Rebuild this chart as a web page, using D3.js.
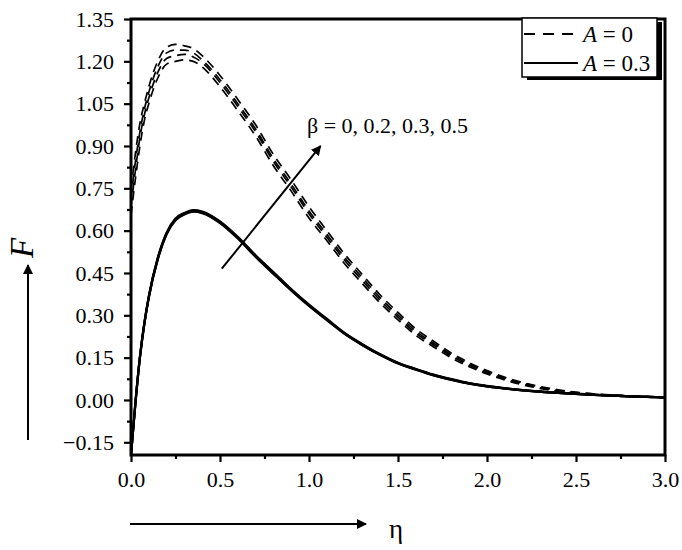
<!DOCTYPE html>
<html>
<head>
<meta charset="utf-8">
<script src="https://cdn.jsdelivr.net/npm/d3@7"></script>
<style>
  body { margin: 0; background: #fff; }
  svg { display: block; }
  svg text { font-family: "Liberation Serif", "Times New Roman", serif; fill: #000; }
</style>
</head>
<body>
<div id="chartBox"></div>
<script>
// eta grid shared by all curves
var eta = [0, 0.025, 0.05, 0.075, 0.1, 0.15, 0.2, 0.25, 0.3, 0.35, 0.4, 0.5, 0.6, 0.7, 0.8, 0.9,
  1.0, 1.1, 1.2, 1.3, 1.4, 1.5, 1.6, 1.7, 1.8, 1.9, 2.0, 2.2, 2.4, 2.6, 2.8, 3.0];

// A = 0, beta = 0, 0.2, 0.3, 0.5 (dashed)
var dashB0 = [0.655, 0.785, 0.90, 0.99, 1.05, 1.14, 1.19, 1.20, 1.205, 1.20, 1.18, 1.11, 1.025, 0.935,
  0.83, 0.74, 0.645, 0.565, 0.483, 0.412, 0.343, 0.284, 0.229, 0.188, 0.149, 0.118, 0.092, 0.054, 0.030, 0.018, 0.012, 0.008];
var dashB2 = [0.685, 0.815, 0.93, 1.01, 1.07, 1.16, 1.21, 1.22, 1.225, 1.215, 1.195, 1.125, 1.04, 0.95,
  0.845, 0.755, 0.66, 0.577, 0.495, 0.423, 0.353, 0.293, 0.237, 0.195, 0.155, 0.123, 0.096, 0.057, 0.032, 0.019, 0.013, 0.009];
var dashB3 = [0.715, 0.845, 0.95, 1.03, 1.09, 1.18, 1.23, 1.24, 1.24, 1.23, 1.205, 1.135, 1.05, 0.96,
  0.855, 0.765, 0.67, 0.587, 0.505, 0.433, 0.362, 0.301, 0.244, 0.201, 0.160, 0.127, 0.100, 0.060, 0.034, 0.021, 0.014, 0.009];
var dashB5 = [0.745, 0.875, 0.98, 1.05, 1.11, 1.20, 1.25, 1.26, 1.255, 1.245, 1.22, 1.15, 1.065, 0.975,
  0.87, 0.78, 0.685, 0.60, 0.517, 0.444, 0.372, 0.31, 0.252, 0.208, 0.166, 0.132, 0.104, 0.062, 0.036, 0.022, 0.015, 0.010];

// A = 0.3, beta = 0, 0.2, 0.3, 0.5 (solid, nearly coincident)
var solidB0 = [-0.195, -0.012, 0.148, 0.268, 0.362, 0.497, 0.587, 0.637, 0.657, 0.667, 0.662, 0.627, 0.572, 0.507,
  0.447, 0.388, 0.333, 0.283, 0.234, 0.194, 0.159, 0.129, 0.107, 0.087, 0.071, 0.058, 0.048, 0.034, 0.025, 0.018, 0.013, 0.009];
var solidB2 = [-0.195, -0.010, 0.150, 0.270, 0.364, 0.499, 0.589, 0.639, 0.659, 0.669, 0.664, 0.629, 0.574, 0.509,
  0.449, 0.389, 0.334, 0.284, 0.235, 0.195, 0.160, 0.130, 0.108, 0.088, 0.072, 0.058, 0.048, 0.034, 0.025, 0.018, 0.013, 0.009];
var solidB3 = [-0.195, -0.008, 0.152, 0.272, 0.366, 0.501, 0.591, 0.641, 0.661, 0.671, 0.666, 0.631, 0.576, 0.511,
  0.451, 0.391, 0.336, 0.286, 0.236, 0.196, 0.161, 0.131, 0.109, 0.089, 0.073, 0.059, 0.049, 0.035, 0.025, 0.018, 0.013, 0.009];
var solidB5 = [-0.195, -0.006, 0.154, 0.274, 0.368, 0.503, 0.593, 0.643, 0.663, 0.673, 0.668, 0.633, 0.578, 0.513,
  0.453, 0.393, 0.338, 0.288, 0.238, 0.198, 0.162, 0.132, 0.110, 0.090, 0.074, 0.060, 0.050, 0.035, 0.026, 0.019, 0.013, 0.009];

var xTicks = [0, 0.5, 1.0, 1.5, 2.0, 2.5, 3.0];
var xMinorTicks = [0.25, 0.75, 1.25, 1.75, 2.25, 2.75];
var yTicks = [-0.15, 0, 0.15, 0.30, 0.45, 0.60, 0.75, 0.90, 1.05, 1.20, 1.35];
var yMinorTicks = [-0.075, 0.075, 0.225, 0.375, 0.525, 0.675, 0.825, 0.975, 1.125, 1.275];
var legendLabels = ["A = 0", "A = 0.3"];
var betaLabel = "\u03b2 = 0, 0.2, 0.3, 0.5";

var w = 682, h = 550;
var svg = d3.select("#chartBox").append("svg")
  .attr("width", w)
  .attr("height", h);

var x = d3.scaleLinear().domain([0, 3]).range([131, 665]);
var y = d3.scaleLinear().domain([-0.195, 1.35]).range([455, 19]);

var defs = svg.append("defs");
defs.append("marker")
  .attr("id", "head")
  .attr("viewBox", "0 0 10 10")
  .attr("refX", 9).attr("refY", 5)
  .attr("markerWidth", 5).attr("markerHeight", 5)
  .attr("markerUnits", "strokeWidth")
  .attr("orient", "auto")
  .append("path")
    .attr("d", "M0,0 L10,5 L0,10 Z")
    .attr("fill", "#000");
defs.append("clipPath").attr("id", "plotClip")
  .append("rect")
    .attr("x", x(0)).attr("y", y(1.35))
    .attr("width", x(3) - x(0)).attr("height", y(-0.195) - y(1.35));

var line = d3.line()
  .x(function(d) { return x(d[0]); })
  .y(function(d) { return y(d[1]); })
  .curve(d3.curveMonotoneX);

function pairs(vals) {
  return eta.map(function(e, i) { return [e, vals[i]]; });
}

var curves = svg.append("g").attr("clip-path", "url(#plotClip)");

[solidB0, solidB2, solidB3, solidB5].forEach(function(s) {
  curves.append("path")
    .attr("d", line(pairs(s)))
    .attr("fill", "none")
    .attr("stroke", "#000")
    .attr("stroke-width", 2.2);
});

[dashB0, dashB2, dashB3, dashB5].forEach(function(s) {
  curves.append("path")
    .attr("d", line(pairs(s)))
    .attr("fill", "none")
    .attr("stroke", "#000")
    .attr("stroke-width", 1.7)
    .attr("stroke-dasharray", "9,6");
});

// axes
var xAxis = svg.append("g")
  .attr("transform", "translate(0," + y(-0.195) + ")")
  .call(d3.axisBottom(x).tickValues(xTicks).tickSize(7).tickPadding(9)
    .tickFormat(d3.format(".1f")));
var xMinor = svg.append("g")
  .attr("transform", "translate(0," + y(-0.195) + ")")
  .call(d3.axisBottom(x).tickValues(xMinorTicks).tickSize(4).tickFormat(""));

var yAxis = svg.append("g")
  .attr("transform", "translate(" + x(0) + ",0)")
  .call(d3.axisLeft(y).tickValues(yTicks).tickSize(7).tickPadding(10)
    .tickFormat(d3.format(".2f")));
var yMinor = svg.append("g")
  .attr("transform", "translate(" + x(0) + ",0)")
  .call(d3.axisLeft(y).tickValues(yMinorTicks).tickSize(4).tickFormat(""));

[xAxis, xMinor, yAxis, yMinor].forEach(function(g) {
  g.select(".domain").remove();
  g.selectAll(".tick line").attr("stroke", "#000").attr("stroke-width", 2.2);
});
[xAxis, yAxis].forEach(function(g) {
  g.attr("font-family", null).attr("font-size", null);
  g.selectAll(".tick text").style("font-size", "22px");
});

// frame
svg.append("rect")
  .attr("x", x(0)).attr("y", y(1.35))
  .attr("width", x(3) - x(0)).attr("height", y(-0.195) - y(1.35))
  .attr("fill", "none")
  .attr("stroke", "#000")
  .attr("stroke-width", 3);

// legend
var lg = svg.append("g");
lg.append("rect").attr("x", 527).attr("y", 22).attr("width", 135).attr("height", 58).attr("fill", "#000");
lg.append("rect").attr("x", 522).attr("y", 18).attr("width", 135).attr("height", 59)
  .attr("fill", "#fff").attr("stroke", "#000").attr("stroke-width", 1.5);
lg.append("line").attr("x1", 524).attr("x2", 578).attr("y1", 34).attr("y2", 34)
  .attr("stroke", "#000").attr("stroke-width", 2).attr("stroke-dasharray", "11,8");
lg.append("line").attr("x1", 524).attr("x2", 578).attr("y1", 63).attr("y2", 63)
  .attr("stroke", "#000").attr("stroke-width", 2);
legendLabels.forEach(function(l, i) {
  var parts = l.split(" = ");
  var t = lg.append("text").attr("x", 583).attr("y", 42 + i * 29)
    .style("font-size", "23px");
  t.append("tspan").attr("font-style", "italic").text(parts[0]);
  t.append("tspan").text(" = " + parts[1]);
});

// beta annotation arrow
svg.append("line")
  .attr("x1", x(0.51)).attr("y1", y(0.465))
  .attr("x2", x(1.065)).attr("y2", y(0.90))
  .attr("stroke", "#000").attr("stroke-width", 2)
  .attr("marker-end", "url(#head)");
svg.append("text")
  .attr("x", 307).attr("y", 133)
  .style("font-size", "22px")
  .text(betaLabel);

// axis titles with arrows
svg.append("line")
  .attr("x1", 28).attr("y1", 440).attr("x2", 28).attr("y2", 265)
  .attr("stroke", "#000").attr("stroke-width", 2)
  .attr("marker-end", "url(#head)");
svg.append("text")
  .attr("transform", "translate(33,248) rotate(-90)")
  .attr("text-anchor", "middle")
  .style("font-size", "33px")
  .attr("font-style", "italic")
  .text("F");

svg.append("line")
  .attr("x1", 130).attr("y1", 524).attr("x2", 366).attr("y2", 524)
  .attr("stroke", "#000").attr("stroke-width", 2)
  .attr("marker-end", "url(#head)");
svg.append("text")
  .attr("x", 396).attr("y", 538)
  .attr("text-anchor", "middle")
  .style("font-size", "27px")
  .text("\u03b7");
</script>
</body>
</html>
